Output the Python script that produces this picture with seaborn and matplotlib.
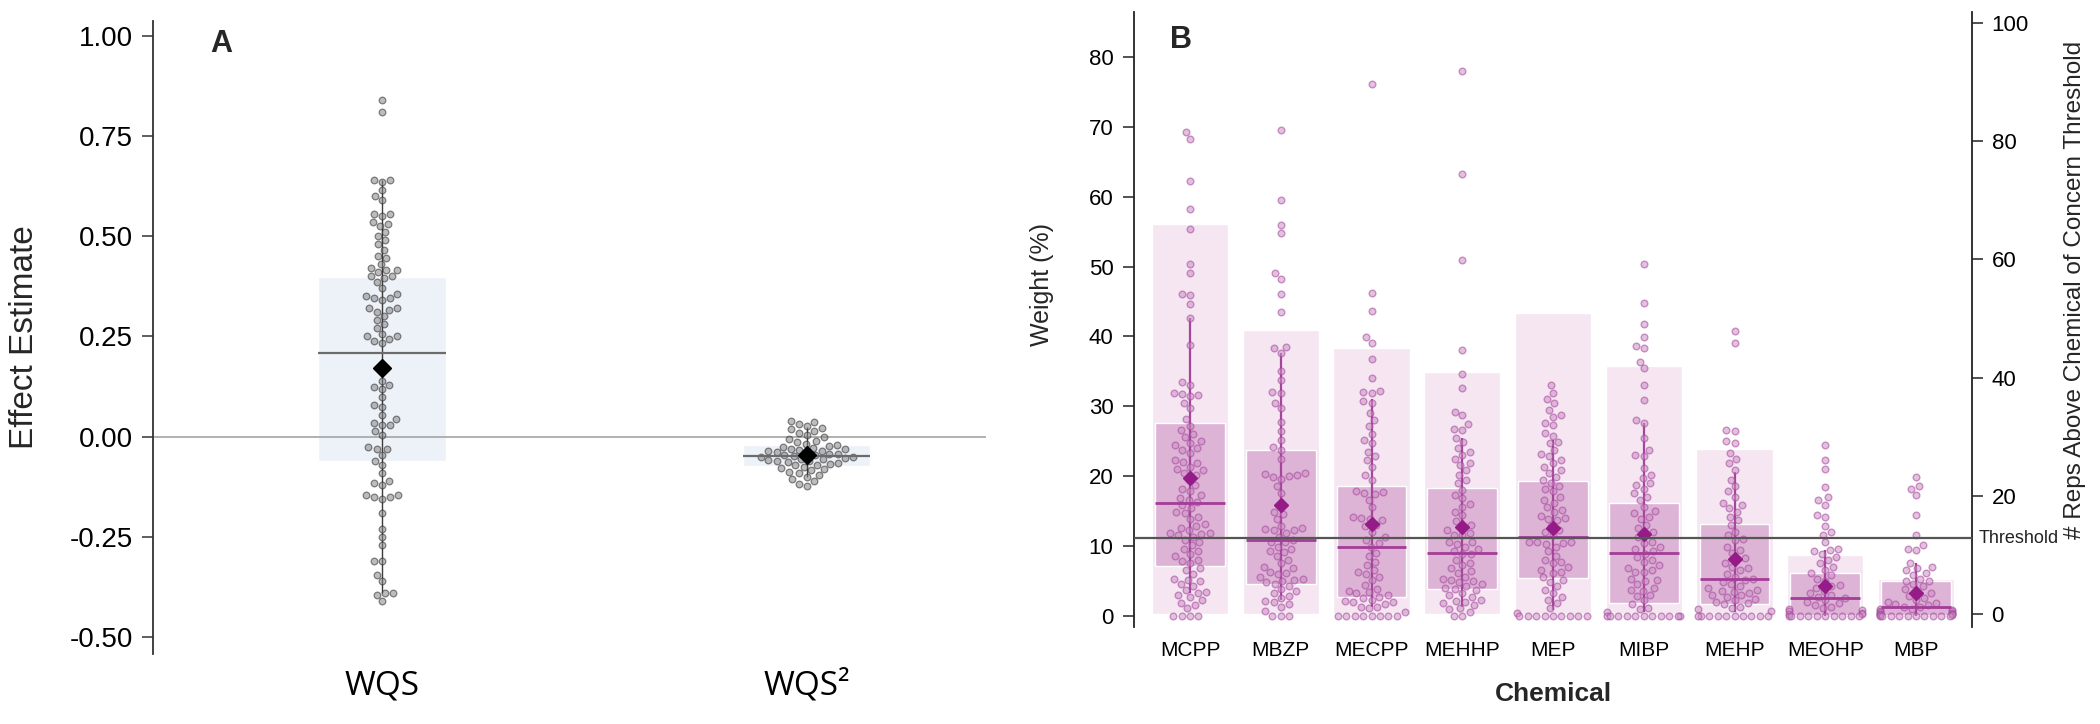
import warnings
import matplotlib
matplotlib.use("Agg")
import matplotlib.pyplot as plt
import matplotlib.transforms as mtransforms
import seaborn as sns
import pandas as pd
import numpy as np

warnings.filterwarnings("ignore")
sns.set_theme(style="white")
plt.rcParams["font.family"] = ["Liberation Sans", "DejaVu Sans"]

# ---- Panel A: effect estimates per model ----
models = ["WQS", "WQS²"]
wqs = [0.84, 0.81, 0.64, 0.64, 0.635, 0.615, 0.60, 0.59, 0.555, 0.555, 0.55, 0.535,
       0.53, 0.525, 0.51, 0.50, 0.49, 0.48, 0.465, 0.45, 0.445, 0.43, 0.42, 0.415,
       0.415, 0.41, 0.40, 0.40, 0.395, 0.385, 0.37, 0.355, 0.35, 0.345, 0.345, 0.34,
       0.32, 0.32, 0.315, 0.31, 0.30, 0.29, 0.28, 0.27, 0.255, 0.25, 0.25, 0.245,
       0.24, 0.235, 0.14, 0.13, 0.125, 0.12, 0.10, 0.08, 0.075, 0.055, 0.045, 0.035,
       0.03, 0.03, 0.015, 0.005, -0.025, -0.03, -0.03, -0.045, -0.06, -0.07, -0.09,
       -0.11, -0.115, -0.12, -0.145, -0.145, -0.15, -0.15, -0.155, -0.19, -0.23,
       -0.25, -0.27, -0.31, -0.31, -0.345, -0.36, -0.39, -0.39, -0.395, -0.41]
wqs2 = [0.039, 0.036, 0.032, 0.027, 0.022, 0.018, 0.013, 0.009, 0.004, -0.001, -0.006,
        -0.010, -0.014, -0.018, -0.021, -0.024, -0.026, -0.028, -0.030, -0.032, -0.033,
        -0.035, -0.037, -0.039, -0.041, -0.043, -0.044, -0.046, -0.047, -0.049, -0.051,
        -0.052, -0.054, -0.056, -0.057, -0.059, -0.061, -0.062, -0.064, -0.066, -0.068,
        -0.070, -0.072, -0.075, -0.078, -0.081, -0.084, -0.088, -0.092, -0.096, -0.101,
        -0.106, -0.112, -0.118, -0.123]
a_lo = [-0.060, -0.073]
a_hi = [0.398, -0.0215]
a_med = [0.209, -0.049]
a_mean = [0.171, -0.045]
a_wlo = [-0.39, -0.10]
a_whi = [0.64, 0.025]

# ---- Panel B: chemical weights ----
chemicals = ["MCPP", "MBZP", "MECPP", "MEHHP", "MEP", "MIBP", "MEHP", "MEOHP", "MBP"]
w_mcpp = [69.2, 68.2, 62.3, 58.3, 55.4, 50.3, 49.1, 46.0, 45.9, 44.7, 42.7, 38.8, 33.4,
          33.1, 31.9, 31.8, 31.6, 31.4, 30.5, 29.7, 28.1, 27.1, 26.6, 26.0, 25.6, 25.0,
          24.7, 24.4, 24.0, 23.7, 23.3, 22.3, 22.0, 21.8, 21.3, 21.0, 20.9, 20.4, 20.2,
          19.5, 18.7, 18.2, 17.8, 17.3, 16.9, 16.6, 16.3, 15.8, 15.4, 14.9, 14.7, 14.2,
          13.8, 13.2, 12.9, 12.6, 12.3, 11.9, 11.8, 11.7, 11.5, 11.3, 10.9, 10.5, 10.1,
          9.6, 9.2, 8.8, 8.5, 8.0, 7.8, 7.5, 6.8, 6.5, 6.0, 5.3, 5.1, 4.9, 4.6, 4.2, 3.7,
          3.4, 3.2, 2.9, 2.7, 2.2, 1.8, 1.5, 1.1, 0.0, 0.0, 0.0, 0.0]
w_mbzp = [69.5, 59.6, 56.0, 54.8, 49.1, 48.2, 46.1, 43.5, 38.5, 38.3, 37.6, 35.0, 33.8,
          32.1, 31.9, 30.5, 29.7, 27.8, 26.4, 25.2, 24.1, 23.7, 22.5, 20.5, 20.3, 20.1,
          20.0, 19.9, 19.6, 18.5, 17.5, 16.2, 14.9, 14.6, 13.8, 12.8, 12.5, 12.4, 12.3,
          12.2, 11.8, 11.3, 10.9, 10.6, 10.5, 9.9, 9.6, 9.3, 9.1, 8.5, 8.0, 7.5, 7.0, 6.8,
          6.2, 6.1, 6.0, 5.6, 5.3, 5.1, 5.0, 4.8, 4.5, 4.2, 3.8, 3.5, 3.2, 2.8, 2.5, 2.1,
          1.9, 1.6, 1.3, 0.6, 0.0, 0.0, 0.0]
w_mecpp = [76.2, 46.2, 43.7, 39.9, 39.0, 36.8, 34.0, 32.2, 32.0, 31.9, 30.7, 30.4, 29.0,
           28.0, 27.1, 26.0, 25.2, 24.7, 23.5, 22.8, 22.3, 21.3, 20.2, 19.5, 17.9, 17.7,
           17.5, 17.4, 16.6, 15.5, 14.2, 14.0, 13.8, 13.7, 13.0, 12.8, 12.0, 11.2, 10.8,
           10.4, 9.9, 9.0, 8.5, 7.7, 7.2, 6.5, 6.2, 6.0, 5.5, 5.1, 4.4, 3.8, 3.6, 3.4, 3.2,
           3.0, 2.7, 2.5, 2.3, 2.1, 2.0, 1.9, 1.6, 1.3, 1.2, 1.1, 0.5, 0.0, 0.0, 0.0, 0.0,
           0.0, 0.0, 0.0, 0.0]
w_mehhp = [78.0, 63.3, 51.0, 38.0, 34.6, 32.6, 29.2, 28.7, 27.5, 26.8, 26.6, 25.4, 24.9,
           24.0, 23.5, 23.0, 22.5, 21.8, 21.6, 20.8, 20.2, 19.5, 19.0, 18.0, 17.3, 16.8,
           16.0, 15.6, 14.9, 14.4, 13.5, 13.0, 12.8, 12.2, 11.8, 11.6, 11.5, 10.6, 10.5,
           10.3, 9.9, 9.5, 9.2, 8.9, 8.8, 8.0, 7.6, 7.2, 6.8, 6.4, 6.1, 5.6, 5.3, 5.1, 5.0,
           4.8, 4.5, 4.2, 3.9, 3.8, 3.7, 3.2, 2.9, 2.7, 2.2, 2.1, 2.0, 1.8, 1.5, 1.1, 0.9,
           0.5, 0.0, 0.0]
w_mep = [33.0, 31.9, 31.1, 30.4, 29.5, 28.7, 28.5, 27.6, 27.3, 26.1, 25.8, 24.9, 24.7,
         23.7, 23.2, 22.8, 22.3, 21.8, 21.3, 20.9, 20.4, 19.9, 19.4, 19.0, 18.6, 18.2,
         17.8, 17.0, 16.6, 16.1, 15.5, 15.1, 14.8, 14.3, 14.0, 13.9, 13.7, 12.8, 12.3,
         12.0, 11.5, 10.6, 10.6, 10.5, 10.4, 10.3, 9.8, 9.2, 8.6, 8.0, 7.7, 7.5, 7.0, 6.6,
         6.3, 6.1, 5.5, 5.1, 4.8, 4.2, 3.7, 3.2, 2.7, 2.2, 1.8, 1.1, 0.4, 0.0, 0.0, 0.0,
         0.0, 0.0, 0.0, 0.0, 0.0, 0.0]
w_mibp = [50.3, 44.8, 41.8, 39.9, 38.6, 38.3, 36.4, 35.4, 33.0, 30.9, 28.0, 27.6, 25.5,
          23.7, 23.0, 22.8, 21.2, 20.2, 19.7, 19.0, 18.7, 18.2, 17.5, 17.0, 16.6, 15.6,
          15.0, 14.7, 14.2, 13.9, 13.0, 12.5, 12.0, 11.8, 11.2, 10.6, 10.4, 9.8, 9.5, 9.2,
          8.9, 8.4, 8.0, 7.7, 7.2, 6.8, 6.6, 6.3, 6.2, 5.3, 5.1, 5.0, 4.5, 4.0, 3.7, 3.6,
          3.0, 2.8, 2.2, 1.6, 1.1, 1.0, 0.5, 0.0, 0.0, 0.0, 0.0, 0.0, 0.0, 0.0, 0.0, 0.0,
          0.0, 0.0]
w_mehp = [40.7, 39.1, 26.6, 26.5, 25.0, 24.7, 23.3, 22.5, 21.8, 20.9, 19.5, 18.5, 17.8,
          17.0, 16.2, 15.8, 15.4, 14.9, 14.2, 13.7, 13.0, 12.0, 11.5, 11.0, 10.8, 9.9,
          9.4, 9.0, 8.2, 8.0, 7.6, 7.0, 6.8, 6.5, 6.0, 5.6, 5.3, 5.1, 4.8, 4.5, 4.2, 4.0,
          3.7, 3.6, 3.4, 3.2, 3.0, 2.9, 2.7, 2.4, 2.2, 2.0, 1.8, 1.6, 1.3, 1.1, 0.9, 0.6,
          0.0, 0.0, 0.0, 0.0, 0.0, 0.0, 0.0, 0.0, 0.0, 0.0]
w_meohp = [24.5, 22.3, 21.0, 18.4, 17.0, 16.5, 15.9, 14.4, 14.2, 12.9, 12.0, 11.6, 10.5,
           9.6, 9.4, 9.2, 8.9, 8.4, 8.0, 7.5, 7.0, 6.6, 6.1, 5.8, 5.3, 5.0, 4.4, 4.2, 4.0,
           3.6, 3.2, 3.0, 2.7, 2.5, 2.2, 2.0, 1.8, 1.5, 1.3, 1.1, 0.9, 0.8, 0.6, 0.4, 0.3,
           0.2, 0.0, 0.0, 0.0, 0.0, 0.0, 0.0, 0.0, 0.0, 0.0, 0.0]
w_mbp = [19.9, 18.5, 18.2, 17.3, 14.4, 11.6, 10.1, 9.6, 9.4, 7.5, 7.0, 6.8, 6.5, 6.1, 5.8,
         5.3, 5.0, 4.9, 4.6, 4.2, 3.8, 3.5, 3.2, 2.8, 2.5, 2.2, 2.0, 1.8, 1.6, 1.5, 1.3,
         1.2, 1.0, 0.9, 0.8, 0.7, 0.6, 0.5, 0.4, 0.3, 0.3, 0.2, 0.2, 0.1, 0.1, 0.0, 0.0,
         0.0, 0.0, 0.0, 0.0, 0.0, 0.0, 0.0, 0.0]
weights = [w_mcpp, w_mbzp, w_mecpp, w_mehhp, w_mep, w_mibp, w_mehp, w_meohp, w_mbp]

reps_above = [66, 48, 45, 41, 51, 42, 28, 10, 6]
b_q1 = [7.1, 4.5, 2.7, 3.8, 5.4, 1.8, 1.6, 0.1, 0.1]
b_q3 = [27.6, 23.7, 18.5, 18.3, 19.3, 16.2, 13.2, 6.1, 4.9]
b_med = [16.1, 10.8, 9.8, 9.0, 11.3, 9.0, 5.2, 2.5, 1.3]
b_mean = [19.7, 15.9, 13.1, 12.7, 12.5, 11.7, 8.1, 4.3, 3.3]
b_wlo = [3.3, 2.2, 1.3, 1.3, 0.8, 0.5, 0.5, 0.0, 0.0]
b_whi = [42.7, 37.6, 31.0, 25.4, 25.2, 27.6, 20.6, 9.4, 7.5]
threshold = 100 / 9

W, H = 2100, 724
fig = plt.figure(figsize=(W / 100, H / 100), dpi=100)

# ================= Panel A =================
axA = fig.add_axes([153 / W, 1 - 654 / H, (986 - 153) / W, (654 - 21) / H])
dfA = pd.DataFrame({"model": ["WQS"] * len(wqs) + ["WQS²"] * len(wqs2),
                    "est": wqs + wqs2})
xa = np.arange(len(models))
axA.axhline(0, color="#aaaaaa", lw=1.3, zorder=1)
axA.bar(xa, np.array(a_hi) - np.array(a_lo), bottom=a_lo, width=0.30,
        color="#edf2f9", zorder=0)
axA.vlines(xa, a_wlo, a_whi, color="#3c3c3c", lw=1.0, zorder=2)
sns.swarmplot(data=dfA, x="model", y="est", order=models, ax=axA, size=4.8,
              color="#858585", edgecolor="#2b2b2b", linewidth=0.9, alpha=0.55, zorder=3)
axA.hlines(a_med, xa - 0.15, xa + 0.15, color="#6b6b6b", lw=1.6, zorder=4)
axA.plot(xa, a_mean, ls="none", marker="D", ms=9.3, color="black", zorder=5)

axA.set_xlim(-0.539, 1.422)
axA.set_ylim(-0.543, 1.038)
axA.set_yticks([-0.5, -0.25, 0, 0.25, 0.5, 0.75, 1.0])
axA.set_yticklabels(["-0.50", "-0.25", "0.00", "0.25", "0.50", "0.75", "1.00"])
axA.set_xlabel("")
axA.set_ylabel("")
for s in ["top", "right", "bottom"]:
    axA.spines[s].set_visible(False)
axA.spines["left"].set_color("#333333")
axA.spines["left"].set_linewidth(1.3)
axA.tick_params(axis="y", left=True, length=7.9, width=1.1, color="#333333",
                labelsize=20, pad=6.5, labelcolor="black")
axA.tick_params(axis="x", bottom=False, length=0, pad=11, labelsize=24)
for lab in axA.get_xticklabels():
    lab.set_fontfamily(["Open Sans", "DejaVu Sans"])
    lab.set_color("black")

# ================= Panel B =================
axB = fig.add_axes([1134.3 / W, 1 - 626.7 / H, (1972.3 - 1134.3) / W, (626.7 - 11.7) / H])
axR = axB.twinx()
axB.set_zorder(axR.get_zorder() + 1)
axB.patch.set_visible(False)

xb = np.arange(len(chemicals))
axR.bar(xb, reps_above, width=0.84, color="#f5e6f2", zorder=0)
axB.bar(xb, np.array(b_q3) - np.array(b_q1), bottom=b_q1, width=0.77,
        color="#ddb3d6", zorder=1)
axB.vlines(xb, b_wlo, b_whi, color="#a5459c", lw=1.6, zorder=2)

dfB = pd.DataFrame({"chemical": [c for c, w in zip(chemicals, weights) for _ in w],
                    "weight": [v for w in weights for v in w]})
sns.swarmplot(data=dfB, x="chemical", y="weight", order=chemicals, ax=axB, size=4.8,
              color="#cc8ec5", edgecolor="#a4489b", linewidth=1.0, alpha=0.55, zorder=3)
axB.hlines(b_med, xb - 0.385, xb + 0.385, color="#a23d98", lw=2.0, zorder=4)
axB.plot(xb, b_mean, ls="none", marker="D", ms=7.5, color="#951b88", zorder=5)
axB.axhline(threshold, color="#555555", lw=1.6, zorder=6)

axB.set_xlim(-0.614, 8.62)
axB.set_ylim(-1.58, 86.5)
axR.set_ylim(-2.11, 101.9)
axB.set_yticks(range(0, 81, 10))
axR.set_yticks(range(0, 101, 20))
axB.set_xlabel("")
axB.set_ylabel("")
for s in ["top", "right", "bottom"]:
    axB.spines[s].set_visible(False)
for s in ["top", "left", "bottom"]:
    axR.spines[s].set_visible(False)
axB.spines["left"].set_color("#222222")
axB.spines["left"].set_linewidth(1.3)
axR.spines["right"].set_color("#222222")
axR.spines["right"].set_linewidth(1.3)
axB.tick_params(axis="y", left=True, length=7.7, width=1.1, color="#222222",
                labelsize=16, pad=7.3, labelcolor="black")
axR.tick_params(axis="y", right=True, length=7.7, width=1.1, color="#222222",
                labelsize=16, pad=6.2, labelcolor="black")
axB.tick_params(axis="x", bottom=False, length=0, pad=10, labelsize=15,
                labelcolor="black")

trans = mtransforms.blended_transform_factory(axB.transAxes, axB.transData)
axB.text(1.008, threshold, "Threshold", transform=trans, ha="left", va="center",
         fontsize=13, color="#222222", clip_on=False)

# ---- labels and panel letters ----
fig.text(24.5 / W, 1 - 337 / H, "Effect Estimate", rotation=90, ha="center",
         va="center", fontsize=24)
fig.text(1042.5 / W, 1 - 284 / H, "Weight (%)", rotation=90, ha="center",
         va="center", fontsize=18)
fig.text(2075 / W, 1 - 290 / H, "# Reps Above Chemical of Concern Threshold",
         rotation=90, ha="center", va="center", fontsize=17.5)
fig.text(1553 / W, 1 - 694 / H, "Chemical", ha="center", va="center",
         fontsize=19, fontweight="bold")
fig.text(221 / W, 1 - 44 / H, "A", ha="center", va="center", fontsize=22,
         fontweight="bold")
fig.text(1181 / W, 1 - 40 / H, "B", ha="center", va="center", fontsize=22,
         fontweight="bold")

fig.savefig("out.png", dpi=100, facecolor="white")
